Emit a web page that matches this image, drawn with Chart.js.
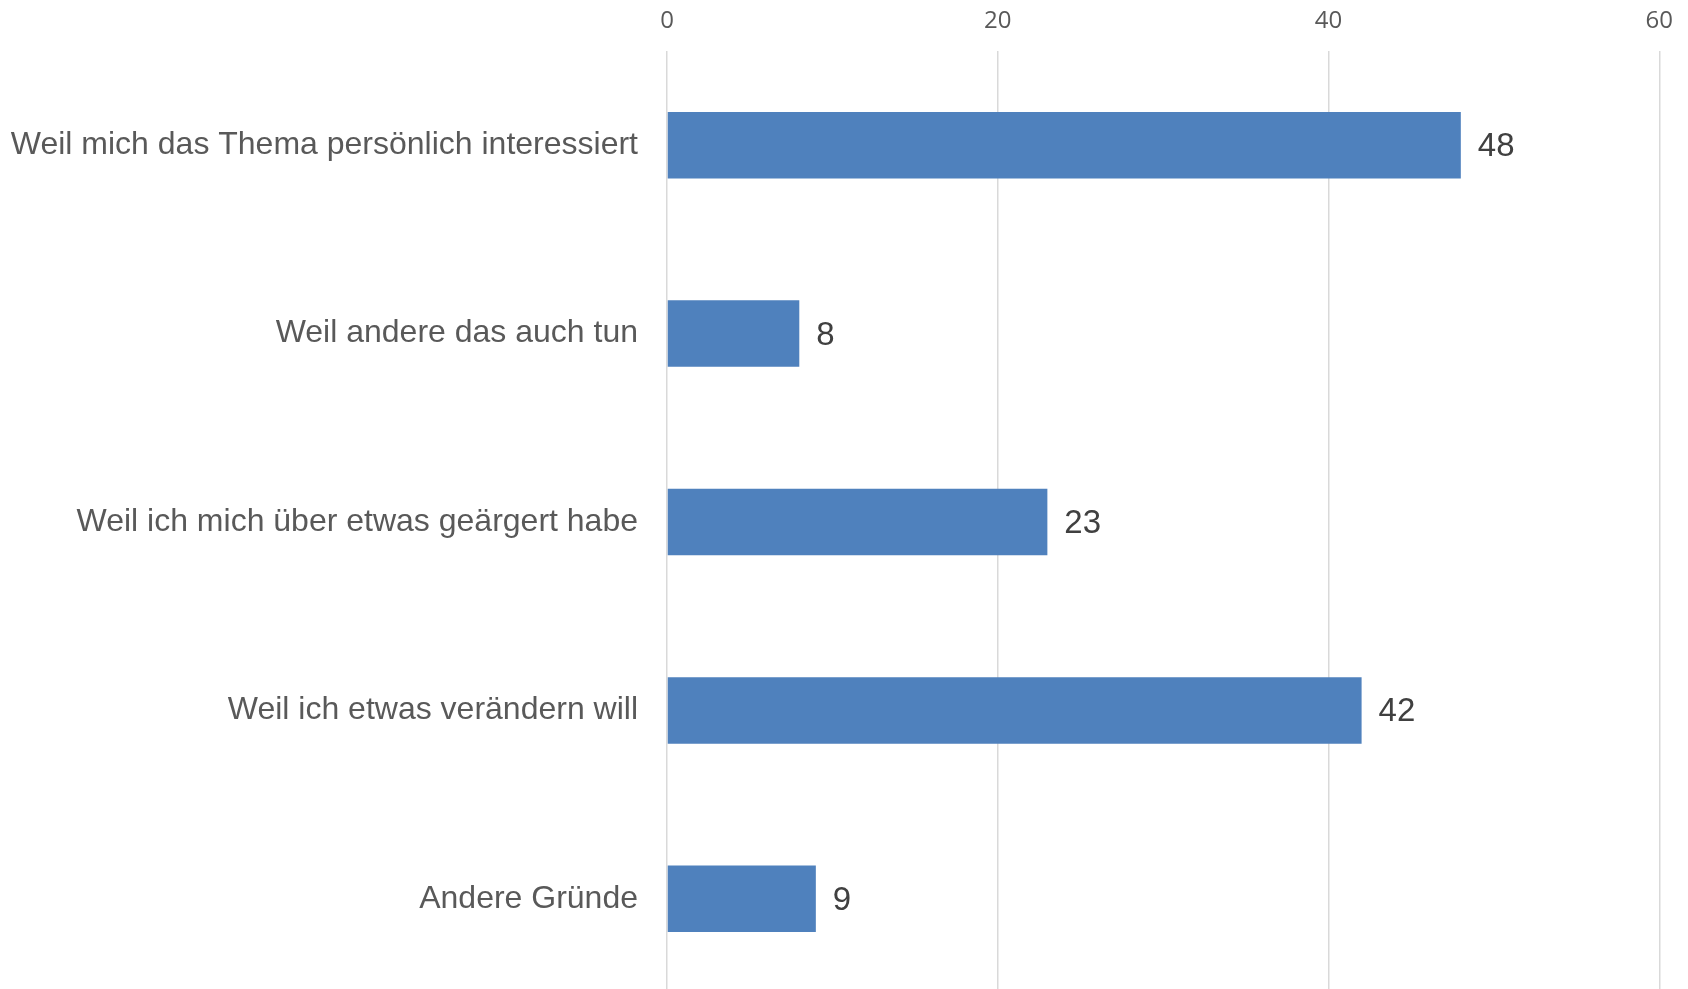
<!DOCTYPE html>
<html>
<head>
<meta charset="utf-8">
<script src="https://cdn.jsdelivr.net/npm/chart.js@4"></script>
<style>
  html, body { margin: 0; padding: 0; background: #fff; overflow: hidden; }
  canvas { display: block; }
</style>
</head>
<body>
<!-- a little taller than the window: the plot runs past the bottom edge in the original -->
<canvas id="reasonsChart" width="1688" height="993"></canvas>
<script>
const categories = [
  'Weil mich das Thema persönlich interessiert',
  'Weil andere das auch tun',
  'Weil ich mich über etwas geärgert habe',
  'Weil ich etwas verändern will',
  'Andere Gründe'
]
const values = [48, 8, 23, 42, 9]
const xMin = 0
const xMax = 60
const xStep = 20

// value labels to the right of each bar
const barLabels = {
  id: 'barLabels',
  afterDatasetsDraw(chart) {
    const ctx = chart.ctx
    const meta = chart.getDatasetMeta(0)
    ctx.save()
    ctx.font = '33px "Liberation Sans", Arial, sans-serif'
    ctx.fillStyle = '#404040'
    ctx.textAlign = 'left'
    ctx.textBaseline = 'middle'
    meta.data.forEach(function (bar, i) {
      ctx.fillText(String(values[i]), bar.x + 17, bar.y + 2)
    })
    ctx.restore()
  }
}

function initChart() {
  new Chart(document.getElementById('reasonsChart'), {
    type: 'bar',
    data: {
      labels: categories,
      datasets: [
        {
          data: values,
          backgroundColor: '#4F81BD',
          borderWidth: 0,
          categoryPercentage: 1,
          barPercentage: 0.353
        }
      ]
    },
    options: {
      indexAxis: 'y',
      responsive: false,
      animation: false,
      layout: { padding: { left: 0, right: 26, top: 0, bottom: 0 } },
      plugins: {
        legend: { display: false },
        tooltip: { enabled: false }
      },
      scales: {
        x: {
          position: 'top',
          min: xMin,
          max: xMax,
          ticks: {
            stepSize: xStep,
            color: '#595959',
            padding: 15,
            font: { family: '"Open Sans", sans-serif', size: 24 }
          },
          grid: {
            color: '#d9d9d9',
            lineWidth: 1.5,
            drawTicks: false
          },
          border: { display: false },
          afterFit(scale) {
            scale.height = 51
          }
        },
        y: {
          ticks: {
            color: '#595959',
            padding: 29,
            font: { family: '"Liberation Sans", Arial, sans-serif', size: 32 }
          },
          grid: { display: false, drawTicks: false },
          border: { display: false },
          afterFit(scale) {
            scale.width = 667
            scale.paddingTop = 0
            scale.paddingBottom = 0
          }
        }
      }
    },
    plugins: [barLabels]
  })
}

document.addEventListener('DOMContentLoaded', () => {
  initChart()
})
</script>
</body>
</html>
